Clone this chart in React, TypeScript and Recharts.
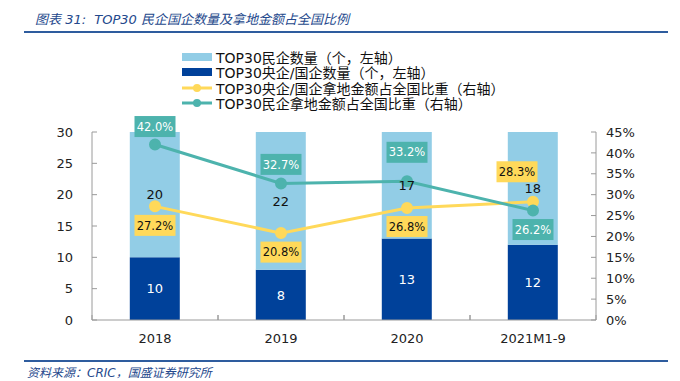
import { Bar, ComposedChart, LabelList, Line, XAxis, YAxis } from "recharts";

const categories = ["2018", "2019", "2020", "2021M1-9"];
const stateCount = [10, 8, 13, 12];
const privateCount = [20, 22, 17, 18];
const stateShare = [27.2, 20.8, 26.8, 28.3];
const privateShare = [42.0, 32.7, 33.2, 26.2];
const leftTicks = [0, 5, 10, 15, 20, 25, 30];
const rightTicks = [0, 5, 10, 15, 20, 25, 30, 35, 40, 45];

// label placement relative to each point
const privateLabelDy = [-18, -19, -29, 19];
const stateLabelDy = [19, 19, 18.5, -30];
const stateLabelDx = [0, 0, 0, -16];

const lightBlue = "#92CDE6";
const darkBlue = "#00419A";
const yellow = "#FFD95A";
const teal = "#4DB3AD";
const axisGray = "#9a9a9a";
const titleBlue = "#24488C";
const font = '"DejaVu Sans", "Noto Sans CJK SC", sans-serif';

const rows = categories.map((name, i) => ({
  name,
  state: stateCount[i],
  private: privateCount[i],
  stateShare: stateShare[i],
  privateShare: privateShare[i],
}));

const legendItems = [
  { label: "TOP30民企数量（个，左轴）", color: lightBlue, kind: "bar" },
  { label: "TOP30央企/国企数量（个，左轴）", color: darkBlue, kind: "bar" },
  { label: "TOP30央企/国企拿地金额占全国比重（右轴）", color: yellow, kind: "line" },
  { label: "TOP30民企拿地金额占全国比重（右轴）", color: teal, kind: "line" },
];

function boxLabel(fill: string, textColor: string, dys: number[], dxs?: number[]) {
  return (props: any) => {
    const { x, y, value, index } = props;
    const cx = Number(x) + (dxs ? dxs[index] : 0);
    const cy = Number(y) + dys[index];
    return (
      <g>
        <rect x={cx - 20.5} y={cy - 10.5} width={41} height={21} fill={fill} />
        <text x={cx} y={cy} dy="0.36em" textAnchor="middle" fill={textColor} fontSize={11.5} fontFamily={font}>
          {Number(value).toFixed(1)}%
        </text>
      </g>
    );
  };
}

function CategoryTick(props: any) {
  const { x, y, payload, width, visibleTicksCount } = props;
  const half = width && visibleTicksCount ? width / visibleTicksCount / 2 : 63;
  const axisY = y - 14;
  return (
    <g>
      <line x1={x - half} x2={x - half} y1={axisY} y2={axisY - 5} stroke={axisGray} />
      <line x1={x + half} x2={x + half} y1={axisY} y2={axisY - 5} stroke={axisGray} />
      <text x={x} y={y} dy="0.71em" textAnchor="middle" fill="#222" fontSize={13} fontFamily={font}>
        {payload.value}
      </text>
    </g>
  );
}

export default function App() {
  return (
    <div style={{ position: "absolute", left: 0, top: 0, width: 680, height: 381, background: "#fff", fontFamily: font }}>
      <div style={{ position: "absolute", left: 35, top: 9, fontSize: 13, fontStyle: "italic", color: titleBlue, whiteSpace: "nowrap" }}>
        图表 31:&nbsp; TOP30 民企国企数量及拿地金额占全国比例
      </div>
      <div style={{ position: "absolute", left: 24, top: 31, width: 644, height: 2, background: "#2E5C9E" }} />

      <div style={{ position: "absolute", left: 182, top: 49 }}>
        {legendItems.map((item) => (
          <div key={item.label} style={{ display: "flex", alignItems: "center", height: 15.5, fontSize: 14, color: "#111", whiteSpace: "nowrap" }}>
            <svg width={32} height={12} style={{ marginRight: 2 }}>
              {item.kind === "bar" ? (
                <rect x={0} y={2} width={30} height={8} fill={item.color} />
              ) : (
                <g>
                  <line x1={0} x2={30} y1={6} y2={6} stroke={item.color} strokeWidth={3} />
                  <circle cx={15} cy={6} r={4} fill={item.color} />
                </g>
              )}
            </svg>
            <span>{item.label}</span>
          </div>
        ))}
      </div>

      <div style={{ position: "absolute", left: 0, top: 0 }}>
        <ComposedChart width={680} height={381} data={rows} margin={{ top: 132, right: 0, bottom: 31, left: 0 }} barCategoryGap="30%">
          <XAxis
            dataKey="name"
            height={30}
            stroke={axisGray}
            tickLine={false}
            tickSize={0}
            tickMargin={14}
            tick={<CategoryTick />}
            interval={0}
          />
          <YAxis
            yAxisId="left"
            orientation="left"
            width={92}
            domain={[0, 30]}
            ticks={leftTicks}
            interval={0}
            stroke={axisGray}
            tickSize={-5}
            tickMargin={24}
            tick={{ fill: "#222", fontSize: 13, fontFamily: font }}
          />
          <YAxis
            yAxisId="right"
            orientation="right"
            width={84}
            domain={[0, 45]}
            ticks={rightTicks}
            interval={0}
            stroke={axisGray}
            tickSize={-5}
            tickMargin={15}
            tickFormatter={(v: number) => `${v}%`}
            tick={{ fill: "#222", fontSize: 13, fontFamily: font }}
          />
          <Bar yAxisId="left" dataKey="state" stackId="n" fill={darkBlue} isAnimationActive={false}>
            <LabelList dataKey="state" position="center" fill="#fff" fontSize={13} fontFamily={font} />
          </Bar>
          <Bar yAxisId="left" dataKey="private" stackId="n" fill={lightBlue} isAnimationActive={false}>
            <LabelList dataKey="private" position="center" fill="#111" fontSize={13} fontFamily={font} />
          </Bar>
          <Line
            yAxisId="right"
            dataKey="stateShare"
            stroke={yellow}
            strokeWidth={3}
            dot={{ r: 4.5, fill: yellow, stroke: yellow }}
            isAnimationActive={false}
          >
            <LabelList dataKey="stateShare" content={boxLabel(yellow, "#111", stateLabelDy, stateLabelDx)} />
          </Line>
          <Line
            yAxisId="right"
            dataKey="privateShare"
            stroke={teal}
            strokeWidth={3}
            dot={{ r: 4.5, fill: teal, stroke: teal }}
            isAnimationActive={false}
          >
            <LabelList dataKey="privateShare" content={boxLabel(teal, "#fff", privateLabelDy)} />
          </Line>
        </ComposedChart>
      </div>

      <div style={{ position: "absolute", left: 24, top: 360, width: 644, height: 2, background: "#2E5C9E" }} />
      <div style={{ position: "absolute", left: 27, top: 363, fontSize: 12, fontStyle: "italic", color: titleBlue, whiteSpace: "nowrap" }}>
        资料来源：CRIC，国盛证券研究所
      </div>
    </div>
  );
}
